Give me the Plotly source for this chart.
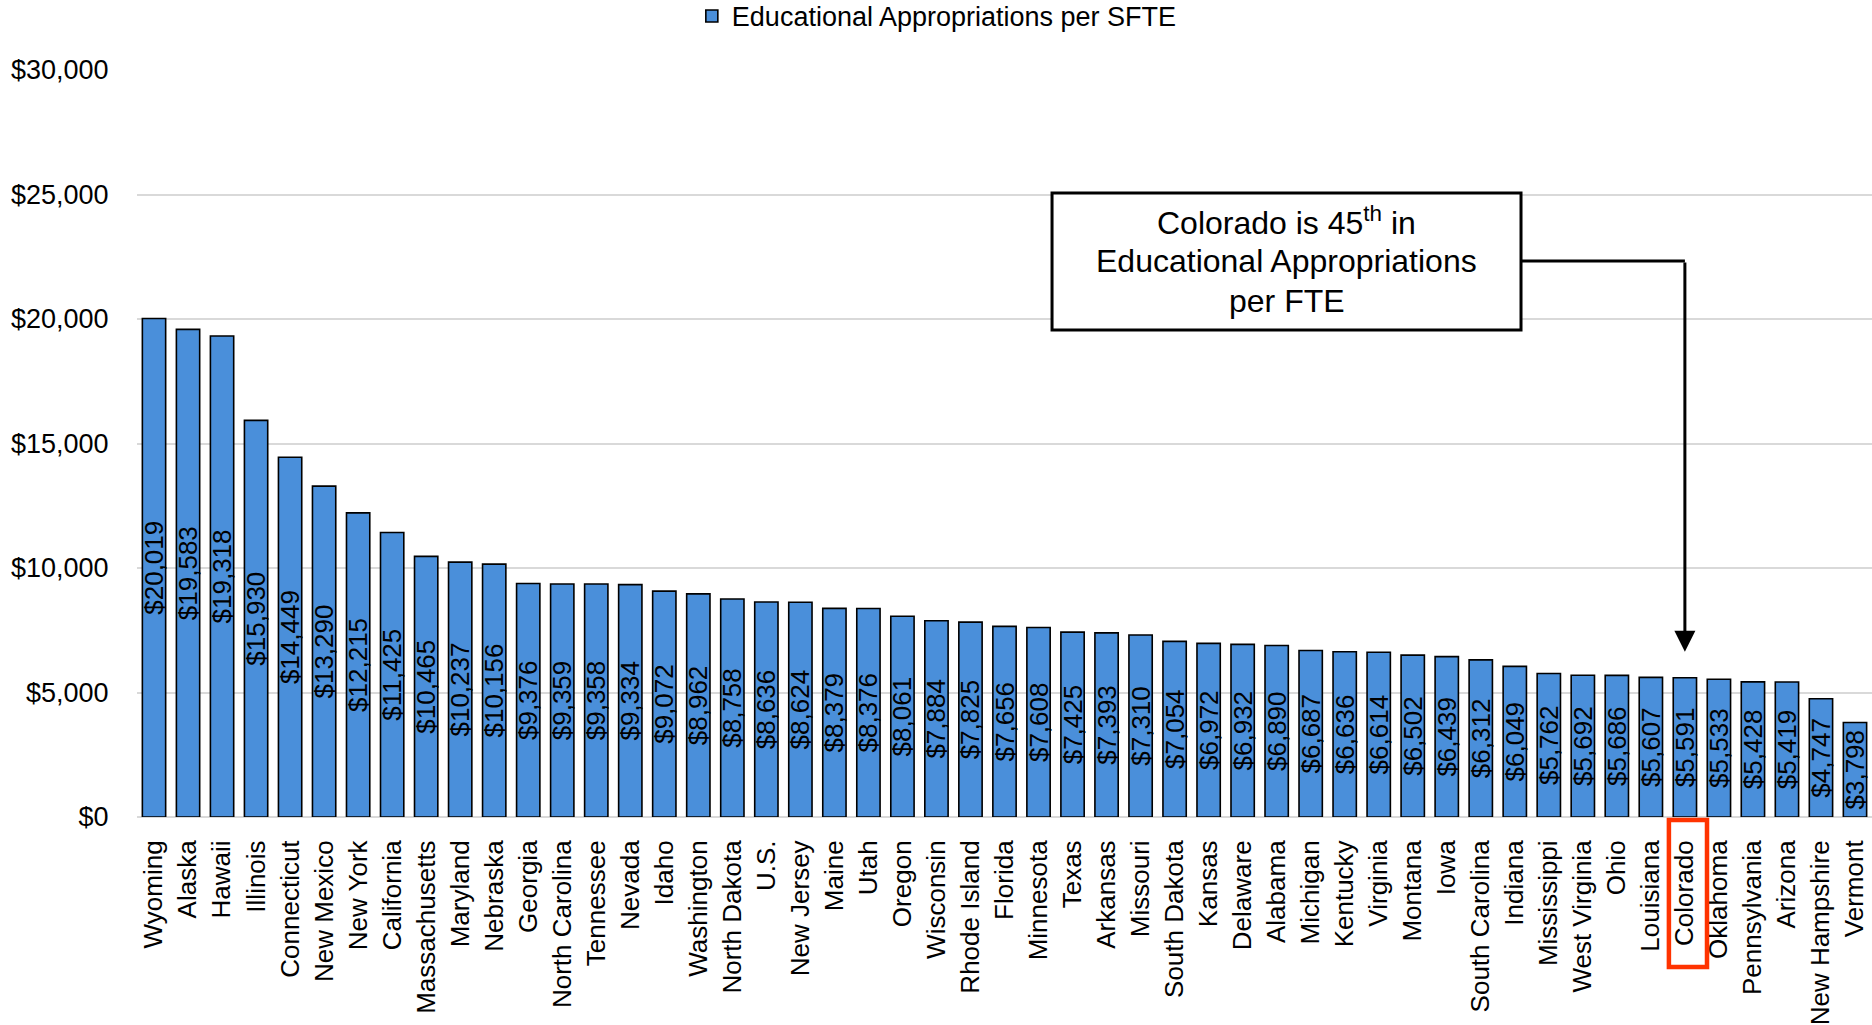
import plotly.graph_objects as go

# Educational appropriations per student FTE, by state (plus U.S. average)
states = [
    "Wyoming", "Alaska", "Hawaii", "Illinois", "Connecticut", "New Mexico",
    "New York", "California", "Massachusetts", "Maryland", "Nebraska",
    "Georgia", "North Carolina", "Tennessee", "Nevada", "Idaho", "Washington",
    "North Dakota", "U.S.", "New Jersey", "Maine", "Utah", "Oregon",
    "Wisconsin", "Rhode Island", "Florida", "Minnesota", "Texas", "Arkansas",
    "Missouri", "South Dakota", "Kansas", "Delaware", "Alabama", "Michigan",
    "Kentucky", "Virginia", "Montana", "Iowa", "South Carolina", "Indiana",
    "Mississippi", "West Virginia", "Ohio", "Louisiana", "Colorado",
    "Oklahoma", "Pennsylvania", "Arizona", "New Hampshire", "Vermont",
]
appropriations = [
    20019, 19583, 19318, 15930, 14449, 13290,
    12215, 11425, 10465, 10237, 10156,
    9376, 9359, 9358, 9334, 9072, 8962,
    8758, 8636, 8624, 8379, 8376, 8061,
    7884, 7825, 7656, 7608, 7425, 7393,
    7310, 7054, 6972, 6932, 6890, 6687,
    6636, 6614, 6502, 6439, 6312, 6049,
    5762, 5692, 5686, 5607, 5591,
    5533, 5428, 5419, 4747, 3798,
]
y_ticks = [0, 5000, 10000, 15000, 20000, 25000, 30000]
y_tick_labels = ["$" + f"{v:,}" for v in y_ticks]

highlight = "Colorado"
callout_lines = ["Colorado is 45<sup>th</sup> in", "Educational Appropriations", "per FTE"]

FONT = "Arial, Liberation Sans, sans-serif"
BAR_COLOR = "#4A8FDA"

fig = go.Figure()
fig.add_trace(go.Bar(
    x=states,
    y=appropriations,
    name="Educational Appropriations per SFTE",
    marker=dict(color=BAR_COLOR, line=dict(color="#000000", width=1.6)),
    texttemplate="$%{y:,}",
    textposition="inside",
    insidetextanchor="middle",
    textangle=-90,
    constraintext="none",
    textfont=dict(family=FONT, size=26, color="#000000"),
    showlegend=True,
))

n = len(states)
hi_idx = states.index(highlight)
hi_paper_x = (hi_idx + 0.5) / n

# Call-out box with the ranking note
box_x0, box_x1 = 0.5274, 0.7977
box_y0, box_y1 = 0.6519, 0.8353
fig.add_shape(type="rect", xref="paper", yref="paper",
              x0=box_x0, x1=box_x1, y0=box_y0, y1=box_y1,
              line=dict(color="#000000", width=3), fillcolor="#FFFFFF", layer="above")
line_ys = [0.7985, 0.7443, 0.6914]
for txt, ly in zip(callout_lines, line_ys):
    fig.add_annotation(xref="paper", yref="paper", x=(box_x0 + box_x1) / 2, y=ly,
                       text=txt, showarrow=False, xanchor="center", yanchor="middle",
                       font=dict(family=FONT, size=32, color="#000000"))

# Elbow connector from the box to the highlighted bar
conn_y = 22330
fig.add_shape(type="line", xref="paper", yref="y",
              x0=box_x1, x1=hi_paper_x, y0=conn_y, y1=conn_y,
              line=dict(color="#000000", width=3))
fig.add_annotation(x=highlight, y=appropriations[hi_idx] + 1050,
                   ax=highlight, ay=conn_y, axref="x", ayref="y",
                   xref="x", yref="y", text="", showarrow=True,
                   arrowhead=2, arrowsize=1.4, arrowwidth=3, arrowcolor="#000000")

# Red frame around the highlighted category label
fig.add_shape(type="rect", xref="x", yref="paper",
              x0=hi_idx - 0.47, x1=hi_idx + 0.65, y0=-0.2008, y1=-0.004,
              line=dict(color="#FF3300", width=4.5), fillcolor="rgba(0,0,0,0)")

fig.update_layout(
    width=1872, height=1025,
    margin=dict(l=137, r=0, t=70, b=208, pad=0, autoexpand=False),
    paper_bgcolor="#FFFFFF", plot_bgcolor="#FFFFFF",
    font=dict(family=FONT, size=27, color="#000000"),
    bargap=0.315,
    legend=dict(orientation="h", x=0.461, xanchor="center",
                yref="container", y=0.984, yanchor="middle",
                font=dict(family=FONT, size=27, color="#000000"),
                bgcolor="rgba(0,0,0,0)"),
)
fig.update_xaxes(
    type="category", range=[-0.5, n - 0.5], automargin=False,
    tickangle=-90, ticks="outside", ticklen=12, tickcolor="rgba(0,0,0,0)",
    tickfont=dict(family=FONT, size=26, color="#000000"),
    showgrid=False, showline=False, zeroline=False,
)
fig.update_yaxes(
    range=[0, 30000], tickvals=y_ticks, ticktext=y_tick_labels, automargin=False,
    ticks="outside", ticklen=22, tickcolor="rgba(0,0,0,0)",
    tickfont=dict(family=FONT, size=27, color="#000000"),
    showgrid=True, gridcolor="#D9D9D9", gridwidth=2,
    zeroline=True, zerolinecolor="#D9D9D9", zerolinewidth=2, showline=False,
)

fig.write_html("out.html")
